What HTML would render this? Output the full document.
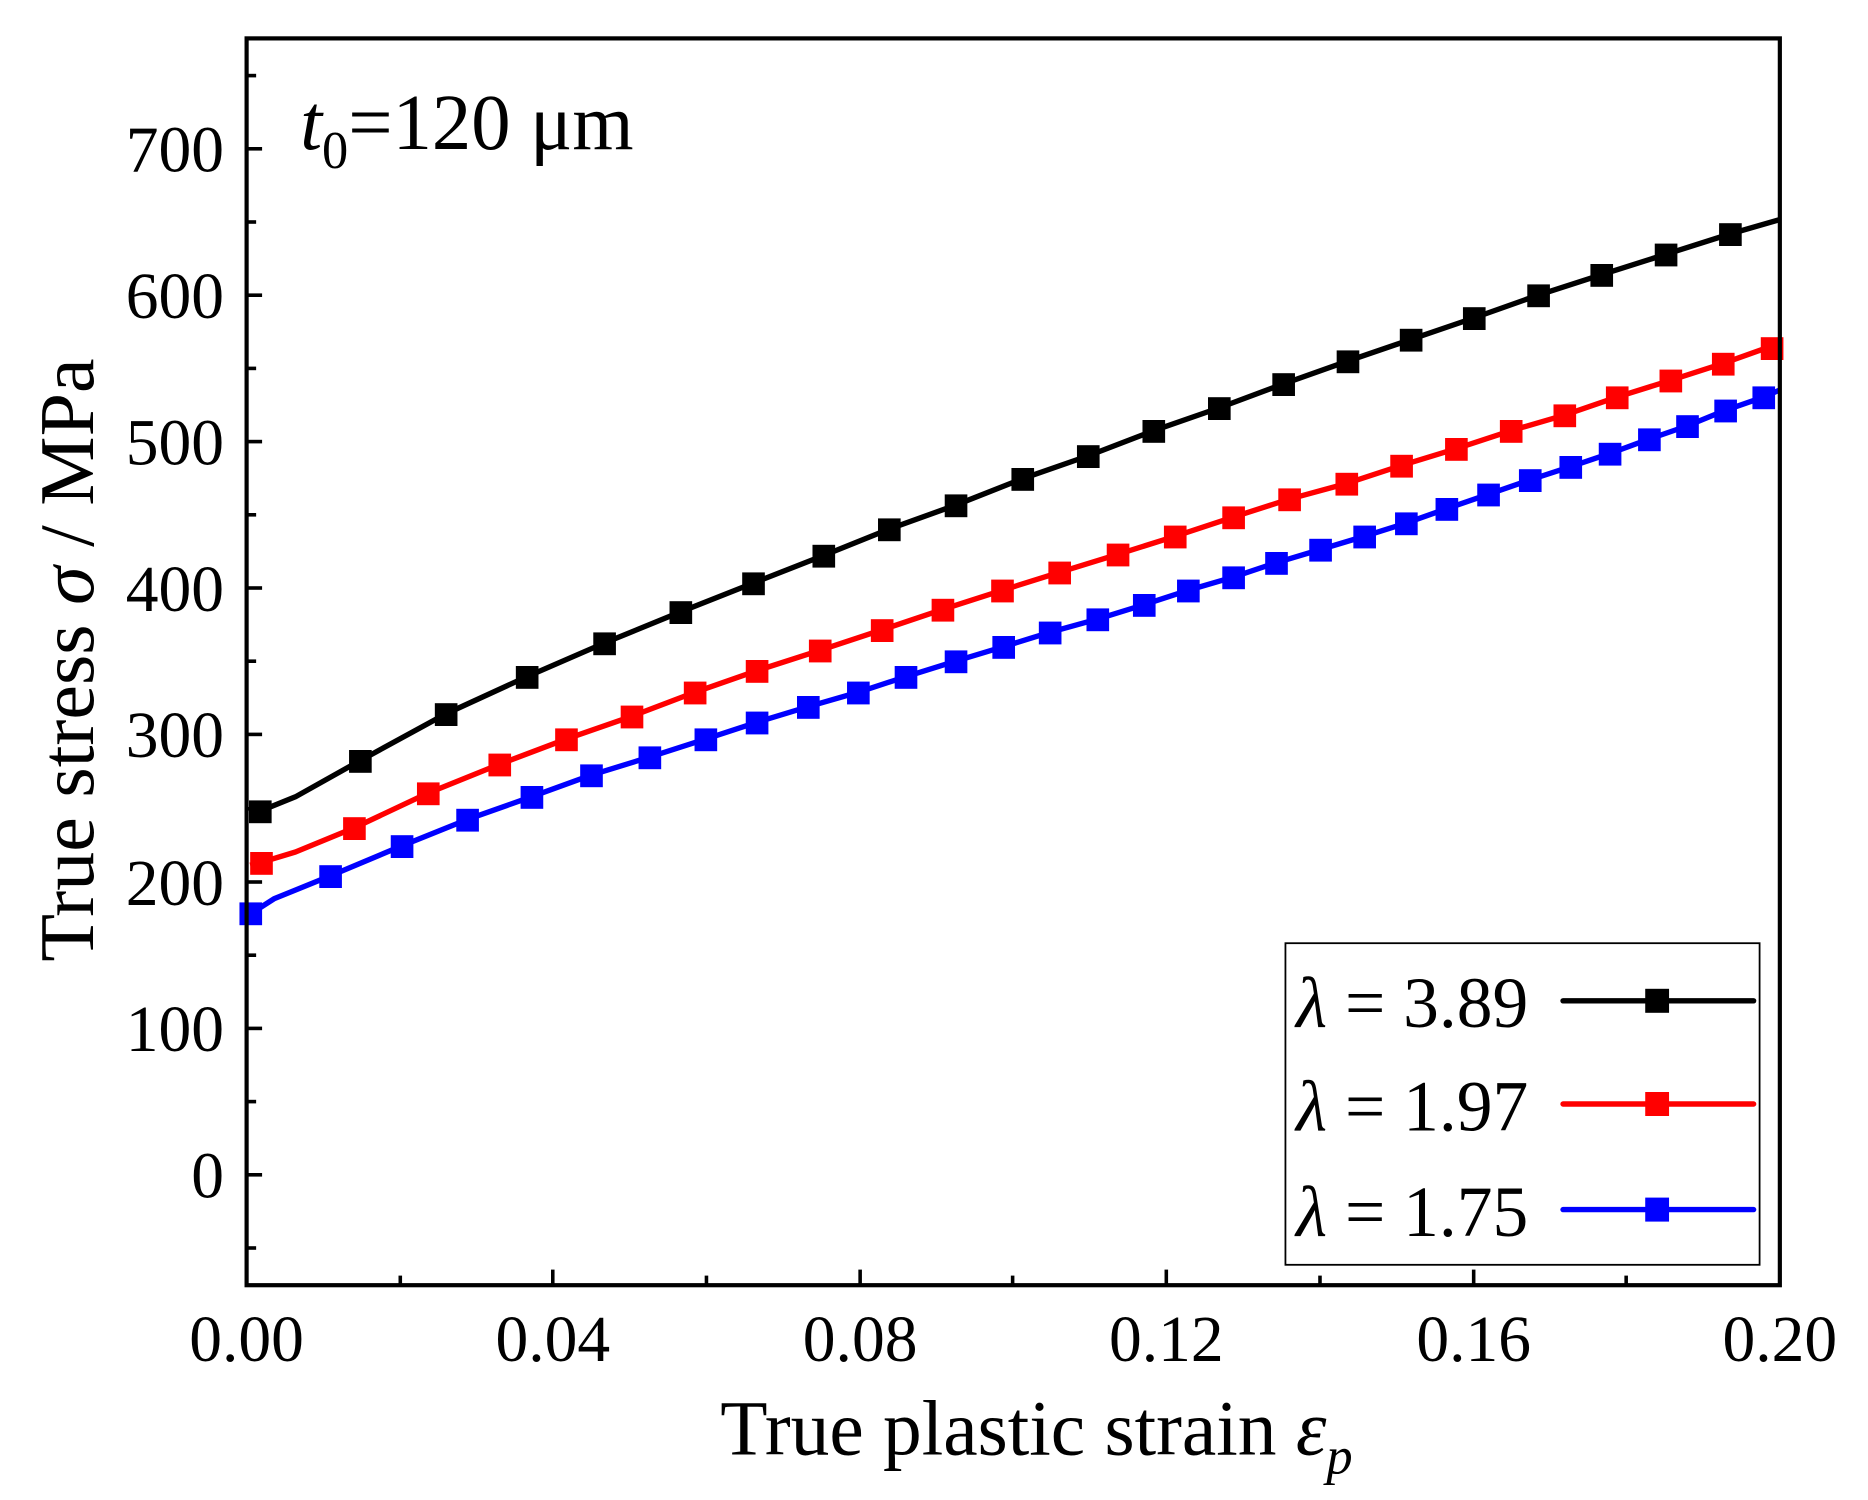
<!DOCTYPE html>
<html><head><style>html,body{margin:0;padding:0;background:#fff}svg{display:block}</style></head>
<body>
<svg width="1868" height="1500" viewBox="0 0 1568 1250" preserveAspectRatio="none" xmlns="http://www.w3.org/2000/svg" font-family="'Liberation Serif', serif">
<rect width="1568" height="1250" fill="#fff"/>
<g stroke="#000" stroke-width="3">
<line x1="207" y1="979" x2="220" y2="979"/><line x1="207" y1="857" x2="220" y2="857"/><line x1="207" y1="735" x2="220" y2="735"/><line x1="207" y1="612" x2="220" y2="612"/><line x1="207" y1="490" x2="220" y2="490"/><line x1="207" y1="368" x2="220" y2="368"/><line x1="207" y1="246" x2="220" y2="246"/><line x1="207" y1="124" x2="220" y2="124"/>
<line x1="207" y1="1040" x2="215" y2="1040"/><line x1="207" y1="918" x2="215" y2="918"/><line x1="207" y1="796" x2="215" y2="796"/><line x1="207" y1="674" x2="215" y2="674"/><line x1="207" y1="551" x2="215" y2="551"/><line x1="207" y1="429" x2="215" y2="429"/><line x1="207" y1="307" x2="215" y2="307"/><line x1="207" y1="185" x2="215" y2="185"/><line x1="207" y1="63" x2="215" y2="63"/>
<line x1="464" y1="1071" x2="464" y2="1058"/><line x1="722" y1="1071" x2="722" y2="1058"/><line x1="979" y1="1071" x2="979" y2="1058"/><line x1="1237" y1="1071" x2="1237" y2="1058"/>
<line x1="336" y1="1071" x2="336" y2="1063"/><line x1="593" y1="1071" x2="593" y2="1063"/><line x1="850" y1="1071" x2="850" y2="1063"/><line x1="1108" y1="1071" x2="1108" y2="1063"/><line x1="1365" y1="1071" x2="1365" y2="1063"/>
</g>
<g font-size="55" text-anchor="end" fill="#000">
<text x="188" y="998">0</text><text x="188" y="876">100</text><text x="188" y="754">200</text><text x="188" y="631">300</text><text x="188" y="509">400</text><text x="188" y="387">500</text><text x="188" y="265">600</text><text x="188" y="143">700</text>
</g>
<g font-size="55" text-anchor="middle" fill="#000">
<text x="207" y="1134">0.00</text><text x="464" y="1134">0.04</text><text x="722" y="1134">0.08</text><text x="979" y="1134">0.12</text><text x="1237" y="1134">0.16</text><text x="1494" y="1134">0.20</text>
</g>
<text x="870" y="1212" font-size="65" text-anchor="middle">True plastic strain <tspan font-style="italic">ε</tspan><tspan font-style="italic" font-size="44" dy="16">p</tspan></text>
<text transform="translate(78,550) rotate(-90)" font-size="65" text-anchor="middle">True stress <tspan font-style="italic">σ</tspan> / MPa</text>
<text x="252" y="124" font-size="66"><tspan font-style="italic">t</tspan><tspan font-size="44" dy="16">0</tspan><tspan dy="-16">=120 μm</tspan></text>
<g fill="none" stroke-width="4.5" stroke-linejoin="round">
<polyline stroke="#000" points="210,676 218,676 248,664 302,634 374,595 442,564 507,536 571,510 632,486 691,463 746,441 802,421 858,399 913,380 968,359 1023,340 1077,320 1131,301 1184,283 1237,265 1291,246 1344,229 1398,212 1452,195 1494,183"/>
<polyline stroke="#f00" points="210,721 218,719 248,710 297,690 359,661 419,637 475,616 530,597 583,577 635,559 688,542 740,525 791,508 841,492 889,477 938,462 986,447 1035,431 1082,416 1130,403 1176,388 1222,374 1268,359 1313,346 1357,331 1402,317 1446,303 1494,286"/>
<polyline stroke="#00f" points="208,763 230,749 277,730 337,705 392,683 446,664 496,646 545,631 592,616 635,602 678,589 720,577 760,564 802,551 842,539 881,527 921,516 960,504 997,492 1035,481 1071,469 1108,458 1145,447 1180,436 1214,424 1249,412 1284,400 1318,389 1351,378 1384,366 1416,355 1448,342 1480,331 1494,325"/>
</g>
<g fill="#000">
<rect x="209" y="667" width="19" height="19"/><rect x="293" y="625" width="19" height="19"/><rect x="365" y="586" width="19" height="19"/><rect x="433" y="555" width="19" height="19"/><rect x="498" y="527" width="19" height="19"/><rect x="562" y="501" width="19" height="19"/><rect x="623" y="477" width="19" height="19"/><rect x="682" y="454" width="19" height="19"/><rect x="737" y="432" width="19" height="19"/><rect x="793" y="412" width="19" height="19"/><rect x="849" y="390" width="19" height="19"/><rect x="904" y="371" width="19" height="19"/><rect x="959" y="350" width="19" height="19"/><rect x="1014" y="331" width="19" height="19"/><rect x="1068" y="311" width="19" height="19"/><rect x="1122" y="292" width="19" height="19"/><rect x="1175" y="274" width="19" height="19"/><rect x="1228" y="256" width="19" height="19"/><rect x="1282" y="237" width="19" height="19"/><rect x="1335" y="220" width="19" height="19"/><rect x="1389" y="203" width="19" height="19"/><rect x="1443" y="186" width="19" height="19"/>
</g>
<g fill="#f00">
<rect x="210" y="710" width="19" height="19"/><rect x="288" y="681" width="19" height="19"/><rect x="350" y="652" width="19" height="19"/><rect x="410" y="628" width="19" height="19"/><rect x="466" y="607" width="19" height="19"/><rect x="521" y="588" width="19" height="19"/><rect x="574" y="568" width="19" height="19"/><rect x="626" y="550" width="19" height="19"/><rect x="679" y="533" width="19" height="19"/><rect x="731" y="516" width="19" height="19"/><rect x="782" y="499" width="19" height="19"/><rect x="832" y="483" width="19" height="19"/><rect x="880" y="468" width="19" height="19"/><rect x="929" y="453" width="19" height="19"/><rect x="977" y="438" width="19" height="19"/><rect x="1026" y="422" width="19" height="19"/><rect x="1073" y="407" width="19" height="19"/><rect x="1121" y="394" width="19" height="19"/><rect x="1167" y="379" width="19" height="19"/><rect x="1213" y="365" width="19" height="19"/><rect x="1259" y="350" width="19" height="19"/><rect x="1304" y="337" width="19" height="19"/><rect x="1348" y="322" width="19" height="19"/><rect x="1393" y="308" width="19" height="19"/><rect x="1437" y="294" width="19" height="19"/><rect x="1478" y="281" width="19" height="19"/>
</g>
<g fill="#00f">
<rect x="201" y="752" width="19" height="19"/><rect x="268" y="721" width="19" height="19"/><rect x="328" y="696" width="19" height="19"/><rect x="383" y="674" width="19" height="19"/><rect x="437" y="655" width="19" height="19"/><rect x="487" y="637" width="19" height="19"/><rect x="536" y="622" width="19" height="19"/><rect x="583" y="607" width="19" height="19"/><rect x="626" y="593" width="19" height="19"/><rect x="669" y="580" width="19" height="19"/><rect x="711" y="568" width="19" height="19"/><rect x="751" y="555" width="19" height="19"/><rect x="793" y="542" width="19" height="19"/><rect x="833" y="530" width="19" height="19"/><rect x="872" y="518" width="19" height="19"/><rect x="912" y="507" width="19" height="19"/><rect x="951" y="495" width="19" height="19"/><rect x="988" y="483" width="19" height="19"/><rect x="1026" y="472" width="19" height="19"/><rect x="1062" y="460" width="19" height="19"/><rect x="1099" y="449" width="19" height="19"/><rect x="1136" y="438" width="19" height="19"/><rect x="1171" y="427" width="19" height="19"/><rect x="1205" y="415" width="19" height="19"/><rect x="1240" y="403" width="19" height="19"/><rect x="1275" y="391" width="19" height="19"/><rect x="1309" y="380" width="19" height="19"/><rect x="1342" y="369" width="19" height="19"/><rect x="1375" y="357" width="19" height="19"/><rect x="1407" y="346" width="19" height="19"/><rect x="1439" y="333" width="19" height="19"/><rect x="1471" y="322" width="19" height="19"/>
</g>
<rect x="207" y="32" width="1287" height="1039" fill="none" stroke="#000" stroke-width="3.5"/>
<rect x="1079" y="786" width="398" height="268" fill="#fff" stroke="#000" stroke-width="1.5"/>
<g font-size="60" fill="#000">
<text x="1088" y="856"><tspan font-style="italic">λ</tspan> = 3.89</text>
<text x="1088" y="942"><tspan font-style="italic">λ</tspan> = 1.97</text>
<text x="1088" y="1030"><tspan font-style="italic">λ</tspan> = 1.75</text>
</g>
<g stroke-width="4.5" stroke-linecap="round">
<line x1="1312" y1="834" x2="1472" y2="834" stroke="#000"/>
<line x1="1312" y1="920" x2="1472" y2="920" stroke="#f00"/>
<line x1="1312" y1="1008" x2="1472" y2="1008" stroke="#00f"/>
</g>
<rect x="1381" y="824" width="20" height="20" fill="#000"/>
<rect x="1381" y="910" width="20" height="20" fill="#f00"/>
<rect x="1381" y="998" width="20" height="20" fill="#00f"/>
</svg>
</body></html>
